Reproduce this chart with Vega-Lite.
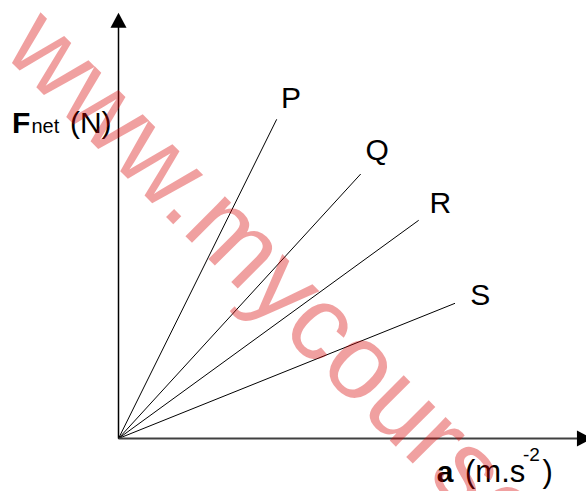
{
  "$schema": "https://vega.github.io/schema/vega-lite/v6.json",
  "width": 586,
  "height": 491,
  "padding": 0,
  "autosize": {"type": "none"},
  "background": "white",
  "config": {"view": {"stroke": null}, "text": {"font": "Liberation Sans"}},
  "datasets": {
    "rays": [
      {"label": "P", "a": 0, "F": 0},
      {"label": "P", "a": 1.582, "F": 3.192},
      {"label": "Q", "a": 0, "F": 0},
      {"label": "Q", "a": 2.422, "F": 2.645},
      {"label": "R", "a": 0, "F": 0},
      {"label": "R", "a": 3.002, "F": 2.182},
      {"label": "S", "a": 0, "F": 0},
      {"label": "S", "a": 3.365, "F": 1.352}
    ],
    "yaxis": [
      {"a": 0, "F": 0},
      {"a": 0, "F": 4.15}
    ],
    "xaxis": [
      {"a": 0, "F": 0},
      {"a": 4.65, "F": 0}
    ],
    "one": [{"id": 1}]
  },
  "layer": [
    {
      "data": {"name": "rays"},
      "mark": {"type": "line", "color": "black", "strokeWidth": 1},
      "encoding": {
        "x": {"field": "a", "type": "quantitative", "scale": {"domain": [-1.185, 4.675], "nice": false, "zero": false}, "axis": null},
        "y": {"field": "F", "type": "quantitative", "scale": {"domain": [-0.525, 4.385], "nice": false, "zero": false}, "axis": null},
        "detail": {"field": "label", "type": "nominal"}
      }
    },
    {
      "data": {"name": "yaxis"},
      "mark": {"type": "line", "color": "black", "strokeWidth": 1.5},
      "encoding": {
        "x": {"field": "a", "type": "quantitative"},
        "y": {"field": "F", "type": "quantitative"}
      }
    },
    {
      "data": {"name": "xaxis"},
      "mark": {"type": "line", "color": "#404040", "strokeWidth": 2},
      "encoding": {
        "x": {"field": "a", "type": "quantitative"},
        "y": {"field": "F", "type": "quantitative"}
      }
    },
    {
      "data": {"name": "one"},
      "mark": {"type": "point", "shape": "M0,0L-0.5,0.94L0.5,0.94Z", "filled": true, "color": "black", "opacity": 1, "size": 1024, "strokeWidth": 0},
      "encoding": {
        "x": {"datum": 0, "type": "quantitative"},
        "y": {"datum": 4.258, "type": "quantitative"}
      }
    },
    {
      "data": {"name": "one"},
      "mark": {"type": "point", "shape": "M0,0L-0.94,-0.5L-0.94,0.5Z", "filled": true, "color": "black", "opacity": 1, "size": 1024, "strokeWidth": 0},
      "encoding": {
        "x": {"datum": 4.735, "type": "quantitative"},
        "y": {"datum": 0, "type": "quantitative"}
      }
    },
    {
      "data": {"name": "rays"},
      "transform": [{"filter": "datum.label === 'P' && datum.a > 0"}],
      "mark": {"type": "text", "fontSize": 30, "align": "left", "baseline": "alphabetic", "color": "black", "dx": 4.3, "dy": -11.3},
      "encoding": {"x": {"field": "a", "type": "quantitative"}, "y": {"field": "F", "type": "quantitative"}, "text": {"field": "label"}}
    },
    {
      "data": {"name": "rays"},
      "transform": [{"filter": "datum.label === 'Q' && datum.a > 0"}],
      "mark": {"type": "text", "fontSize": 30, "align": "left", "baseline": "alphabetic", "color": "black", "dx": 4.8, "dy": -14},
      "encoding": {"x": {"field": "a", "type": "quantitative"}, "y": {"field": "F", "type": "quantitative"}, "text": {"field": "label"}}
    },
    {
      "data": {"name": "rays"},
      "transform": [{"filter": "datum.label === 'R' && datum.a > 0"}],
      "mark": {"type": "text", "fontSize": 30, "align": "left", "baseline": "alphabetic", "color": "black", "dx": 10.7, "dy": -7},
      "encoding": {"x": {"field": "a", "type": "quantitative"}, "y": {"field": "F", "type": "quantitative"}, "text": {"field": "label"}}
    },
    {
      "data": {"name": "rays"},
      "transform": [{"filter": "datum.label === 'S' && datum.a > 0"}],
      "mark": {"type": "text", "fontSize": 30, "align": "left", "baseline": "alphabetic", "color": "black", "dx": 15.2, "dy": 1.2},
      "encoding": {"x": {"field": "a", "type": "quantitative"}, "y": {"field": "F", "type": "quantitative"}, "text": {"field": "label"}}
    },
    {
      "data": {"name": "one"},
      "mark": {"type": "text", "text": "F", "fontSize": 30, "fontWeight": "bold", "align": "left", "baseline": "alphabetic", "color": "black"},
      "encoding": {"x": {"datum": -1.065, "type": "quantitative"}, "y": {"datum": 3.052, "type": "quantitative"}}
    },
    {
      "data": {"name": "one"},
      "mark": {"type": "text", "text": "net", "fontSize": 20, "align": "left", "baseline": "alphabetic", "color": "black"},
      "encoding": {"x": {"datum": -0.871, "type": "quantitative"}, "y": {"datum": 3.052, "type": "quantitative"}}
    },
    {
      "data": {"name": "one"},
      "mark": {"type": "text", "text": "(N)", "fontSize": 30, "align": "left", "baseline": "alphabetic", "color": "black"},
      "encoding": {"x": {"datum": -0.486, "type": "quantitative"}, "y": {"datum": 3.052, "type": "quantitative"}}
    },
    {
      "data": {"name": "one"},
      "mark": {"type": "text", "text": "a", "fontSize": 30, "fontWeight": "bold", "align": "left", "baseline": "alphabetic", "color": "black"},
      "encoding": {"x": {"datum": 3.183, "type": "quantitative"}, "y": {"datum": -0.432, "type": "quantitative"}}
    },
    {
      "data": {"name": "one"},
      "mark": {"type": "text", "text": "(m.s", "fontSize": 31, "align": "left", "baseline": "alphabetic", "color": "black"},
      "encoding": {"x": {"datum": 3.465, "type": "quantitative"}, "y": {"datum": -0.432, "type": "quantitative"}}
    },
    {
      "data": {"name": "one"},
      "mark": {"type": "text", "text": "-2", "fontSize": 19, "align": "left", "baseline": "alphabetic", "color": "black"},
      "encoding": {"x": {"datum": 4.045, "type": "quantitative"}, "y": {"datum": -0.225, "type": "quantitative"}}
    },
    {
      "data": {"name": "one"},
      "mark": {"type": "text", "text": ")", "fontSize": 31, "align": "left", "baseline": "alphabetic", "color": "black"},
      "encoding": {"x": {"datum": 4.24, "type": "quantitative"}, "y": {"datum": -0.432, "type": "quantitative"}}
    },
    {
      "data": {"name": "one"},
      "mark": {"type": "text", "text": "www.mycourses.co.za", "fontSize": 106, "angle": 45, "align": "left", "baseline": "alphabetic", "color": "#d80000", "opacity": 0.37},
      "encoding": {"x": {"datum": -1.174, "type": "quantitative"}, "y": {"datum": 3.866, "type": "quantitative"}}
    }
  ]
}
